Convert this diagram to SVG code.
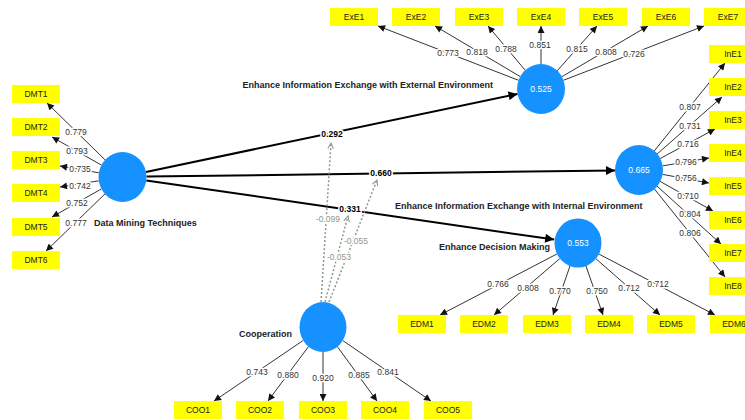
<svg xmlns="http://www.w3.org/2000/svg" width="745" height="420" viewBox="0 0 745 420">
<defs>
<marker id="ah" viewBox="0 0 10 10" refX="10" refY="5" markerWidth="8" markerHeight="7" markerUnits="userSpaceOnUse" orient="auto"><path d="M0,0 L10,5 L0,10 z" fill="#111"/></marker>
<marker id="ahb" viewBox="0 0 10 10" refX="10" refY="5" markerWidth="11" markerHeight="9" markerUnits="userSpaceOnUse" orient="auto"><path d="M0,0 L10,5 L0,10 z" fill="#000"/></marker>
<marker id="aho" viewBox="0 0 10 10" refX="9" refY="5" markerWidth="7" markerHeight="7" markerUnits="userSpaceOnUse" orient="auto"><path d="M1,1 L9,5 L1,9" fill="none" stroke="#8a9a88" stroke-width="1.5"/></marker>
<style>
.box{fill:#ffff00}
.bt{font-family:"Liberation Sans",Arial,sans-serif;font-size:8.5px;fill:#222;text-anchor:middle}
.lv{fill:#1592ff}
.lvt{font-family:"Liberation Sans",Arial,sans-serif;font-size:8.5px;fill:#fff;text-anchor:middle}
.nm{font-family:"Liberation Sans",Arial,sans-serif;font-size:9px;font-weight:bold;fill:#222}
.ld{stroke:#333;stroke-width:1;fill:none;marker-end:url(#ah)}
.st{stroke:#000;stroke-width:2;fill:none;marker-end:url(#ahb)}
.md{stroke:#8a9a88;stroke-width:1.5;stroke-dasharray:2,2;fill:none;marker-end:url(#aho)}
.lt{font-family:"Liberation Sans",Arial,sans-serif;font-size:8.5px;fill:#333;text-anchor:middle;stroke:#fff;stroke-width:3px;paint-order:stroke;stroke-linejoin:round}
.pt{font-family:"Liberation Sans",Arial,sans-serif;font-size:8.5px;font-weight:bold;fill:#000;text-anchor:middle;stroke:#fff;stroke-width:3px;paint-order:stroke;stroke-linejoin:round}
.mt{font-family:"Liberation Sans",Arial,sans-serif;font-size:8.5px;fill:#8a9a88;text-anchor:middle;stroke:#fff;stroke-width:3px;paint-order:stroke;stroke-linejoin:round}
</style>
</defs>
<rect width="745" height="420" fill="#fff"/>

<g id="connectors">
<line class="ld" x1="518.6" y1="80.3" x2="378" y2="26"/>
<line class="ld" x1="520.4" y1="76.7" x2="435" y2="26"/>
<line class="ld" x1="525.5" y1="70.6" x2="488" y2="26"/>
<line class="ld" x1="541" y1="65" x2="541" y2="26"/>
<line class="ld" x1="556.9" y1="71.1" x2="597" y2="26"/>
<line class="ld" x1="561.7" y1="76.8" x2="648" y2="26"/>
<line class="ld" x1="563.4" y1="80.3" x2="704" y2="26"/>
<line class="ld" x1="105.4" y1="160.2" x2="47" y2="103"/>
<line class="ld" x1="101.6" y1="165.2" x2="52" y2="137"/>
<line class="ld" x1="98.9" y1="172.8" x2="60" y2="166"/>
<line class="ld" x1="98.8" y1="180.8" x2="60" y2="187"/>
<line class="ld" x1="101.6" y1="188.8" x2="52" y2="217"/>
<line class="ld" x1="105.2" y1="193.7" x2="46" y2="251"/>
<line class="ld" x1="654" y1="151.3" x2="725" y2="63"/>
<line class="ld" x1="657" y1="154.1" x2="722" y2="97"/>
<line class="ld" x1="660.1" y1="158.6" x2="715" y2="129"/>
<line class="ld" x1="662.6" y1="165.9" x2="709" y2="158"/>
<line class="ld" x1="662.6" y1="174.4" x2="709" y2="183"/>
<line class="ld" x1="660.1" y1="181.4" x2="713" y2="211"/>
<line class="ld" x1="656.9" y1="186" x2="721" y2="244"/>
<line class="ld" x1="654.1" y1="188.6" x2="725" y2="277"/>
<line class="ld" x1="556.7" y1="254.1" x2="440" y2="315"/>
<line class="ld" x1="559.8" y1="258.6" x2="494" y2="315"/>
<line class="ld" x1="570.1" y1="265.7" x2="553" y2="315"/>
<line class="ld" x1="585.9" y1="265.7" x2="603" y2="315"/>
<line class="ld" x1="596" y1="258.8" x2="660" y2="315"/>
<line class="ld" x1="599.2" y1="254.2" x2="715" y2="315"/>
<line class="ld" x1="303.1" y1="340.5" x2="214" y2="401"/>
<line class="ld" x1="308.7" y1="346.3" x2="268" y2="401"/>
<line class="ld" x1="323" y1="352" x2="323" y2="401"/>
<line class="ld" x1="337.2" y1="346.4" x2="377" y2="401"/>
<line class="ld" x1="342.8" y1="340.6" x2="431" y2="401"/>
<line class="st" x1="146" y1="172" x2="517.5" y2="93.9"/>
<line class="st" x1="146.5" y1="176.6" x2="615" y2="170.4"/>
<line class="st" x1="146.3" y1="180.4" x2="554.2" y2="239.6"/>
<line class="md" x1="321" y1="302" x2="331" y2="143"/>
<line class="md" x1="325" y1="302" x2="348" y2="216"/>
<line class="md" x1="329" y1="302" x2="377" y2="180"/>
<text class="lt" x="448" y="56">0.773</text>
<text class="lt" x="477" y="55">0.818</text>
<text class="lt" x="506" y="52">0.788</text>
<text class="lt" x="540" y="48">0.851</text>
<text class="lt" x="577" y="52">0.815</text>
<text class="lt" x="606" y="55">0.808</text>
<text class="lt" x="634" y="57">0.726</text>
<text class="lt" x="76" y="135">0.779</text>
<text class="lt" x="77" y="154">0.793</text>
<text class="lt" x="80" y="172">0.735</text>
<text class="lt" x="80" y="189">0.742</text>
<text class="lt" x="77" y="206">0.752</text>
<text class="lt" x="76" y="226">0.777</text>
<text class="lt" x="690" y="110">0.807</text>
<text class="lt" x="690" y="129">0.731</text>
<text class="lt" x="688" y="147">0.716</text>
<text class="lt" x="686" y="165">0.796</text>
<text class="lt" x="686" y="181">0.756</text>
<text class="lt" x="688" y="199">0.710</text>
<text class="lt" x="690" y="217">0.804</text>
<text class="lt" x="690" y="236">0.806</text>
<text class="lt" x="498" y="287">0.766</text>
<text class="lt" x="528" y="291">0.808</text>
<text class="lt" x="560" y="294">0.770</text>
<text class="lt" x="597" y="294">0.750</text>
<text class="lt" x="629" y="291">0.712</text>
<text class="lt" x="658" y="287">0.712</text>
<text class="lt" x="257" y="375">0.743</text>
<text class="lt" x="288" y="378">0.880</text>
<text class="lt" x="323" y="381">0.920</text>
<text class="lt" x="359" y="378">0.885</text>
<text class="lt" x="388" y="375">0.841</text>
<text class="pt" x="332" y="137">0.292</text>
<text class="pt" x="381" y="176">0.660</text>
<text class="pt" x="350" y="212">0.331</text>
<text class="mt" x="328" y="222">-0.099</text>
<text class="mt" x="356" y="244">-0.055</text>
<text class="mt" x="339" y="260">-0.053</text>
</g>

<g id="DMT">
<ellipse class="lv" cx="122.5" cy="177" rx="24" ry="25"/>
<text class="nm" x="94" y="226">Data Mining Techniques</text>
</g>
<g id="ExE">
<ellipse class="lv" cx="541" cy="89" rx="24" ry="25"/>
<text class="lvt" x="541" y="92">0.525</text>
<text class="nm" x="493" y="88" text-anchor="end">Enhance Information Exchange with External Environment</text>
</g>
<g id="InE">
<ellipse class="lv" cx="639" cy="170" rx="24" ry="25"/>
<text class="lvt" x="639" y="173">0.665</text>
<text class="nm" x="395" y="209">Enhance Information Exchange with Internal Environment</text>
</g>
<g id="EDM">
<ellipse class="lv" cx="578" cy="243" rx="23.5" ry="24.5"/>
<text class="lvt" x="578" y="246">0.553</text>
<text class="nm" x="439" y="250">Enhance Decision Making</text>
</g>
<g id="COO">
<ellipse class="lv" cx="323" cy="327" rx="23.5" ry="25"/>
<text class="nm" x="239" y="337">Cooperation</text>
</g>

<g id="ExE1"><rect class="box" x="330" y="8" width="48" height="18"/><text class="bt" x="354" y="20">ExE1</text></g>
<g id="ExE2"><rect class="box" x="392" y="8" width="48" height="18"/><text class="bt" x="416" y="20">ExE2</text></g>
<g id="ExE3"><rect class="box" x="455" y="8" width="48" height="18"/><text class="bt" x="479" y="20">ExE3</text></g>
<g id="ExE4"><rect class="box" x="517" y="8" width="48" height="18"/><text class="bt" x="541" y="20">ExE4</text></g>
<g id="ExE5"><rect class="box" x="579" y="8" width="48" height="18"/><text class="bt" x="603" y="20">ExE5</text></g>
<g id="ExE6"><rect class="box" x="642" y="8" width="48" height="18"/><text class="bt" x="666" y="20">ExE6</text></g>
<g id="ExE7"><rect class="box" x="704" y="8" width="48" height="18"/><text class="bt" x="728" y="20">ExE7</text></g>

<g id="DMT1"><rect class="box" x="12" y="85" width="48" height="18"/><text class="bt" x="36" y="97">DMT1</text></g>
<g id="DMT2"><rect class="box" x="12" y="118" width="48" height="18"/><text class="bt" x="36" y="130">DMT2</text></g>
<g id="DMT3"><rect class="box" x="12" y="151" width="48" height="18"/><text class="bt" x="36" y="163">DMT3</text></g>
<g id="DMT4"><rect class="box" x="12" y="184" width="48" height="18"/><text class="bt" x="36" y="196">DMT4</text></g>
<g id="DMT5"><rect class="box" x="12" y="218" width="48" height="18"/><text class="bt" x="36" y="230">DMT5</text></g>
<g id="DMT6"><rect class="box" x="12" y="251" width="48" height="18"/><text class="bt" x="36" y="263">DMT6</text></g>

<g id="InE1"><rect class="box" x="709" y="45" width="48" height="18"/><text class="bt" x="733" y="57">InE1</text></g>
<g id="InE2"><rect class="box" x="709" y="78" width="48" height="18"/><text class="bt" x="733" y="90">InE2</text></g>
<g id="InE3"><rect class="box" x="709" y="111" width="48" height="18"/><text class="bt" x="733" y="123">InE3</text></g>
<g id="InE4"><rect class="box" x="709" y="144" width="48" height="18"/><text class="bt" x="733" y="156">InE4</text></g>
<g id="InE5"><rect class="box" x="709" y="177" width="48" height="18"/><text class="bt" x="733" y="189">InE5</text></g>
<g id="InE6"><rect class="box" x="709" y="211" width="48" height="18"/><text class="bt" x="733" y="223">InE6</text></g>
<g id="InE7"><rect class="box" x="709" y="244" width="48" height="18"/><text class="bt" x="733" y="256">InE7</text></g>
<g id="InE8"><rect class="box" x="709" y="277" width="48" height="18"/><text class="bt" x="733" y="289">InE8</text></g>

<g id="EDM1"><rect class="box" x="398" y="315" width="48" height="18"/><text class="bt" x="422" y="327">EDM1</text></g>
<g id="EDM2"><rect class="box" x="460" y="315" width="48" height="18"/><text class="bt" x="484" y="327">EDM2</text></g>
<g id="EDM3"><rect class="box" x="523" y="315" width="48" height="18"/><text class="bt" x="547" y="327">EDM3</text></g>
<g id="EDM4"><rect class="box" x="585" y="315" width="48" height="18"/><text class="bt" x="609" y="327">EDM4</text></g>
<g id="EDM5"><rect class="box" x="647" y="315" width="48" height="18"/><text class="bt" x="671" y="327">EDM5</text></g>
<g id="EDM6"><rect class="box" x="710" y="315" width="48" height="18"/><text class="bt" x="734" y="327">EDM6</text></g>

<g id="COO1"><rect class="box" x="174" y="401" width="48" height="18"/><text class="bt" x="198" y="413">COO1</text></g>
<g id="COO2"><rect class="box" x="236" y="401" width="48" height="18"/><text class="bt" x="260" y="413">COO2</text></g>
<g id="COO3"><rect class="box" x="299" y="401" width="48" height="18"/><text class="bt" x="323" y="413">COO3</text></g>
<g id="COO4"><rect class="box" x="361" y="401" width="48" height="18"/><text class="bt" x="385" y="413">COO4</text></g>
<g id="COO5"><rect class="box" x="424" y="401" width="48" height="18"/><text class="bt" x="448" y="413">COO5</text></g>
</svg>
